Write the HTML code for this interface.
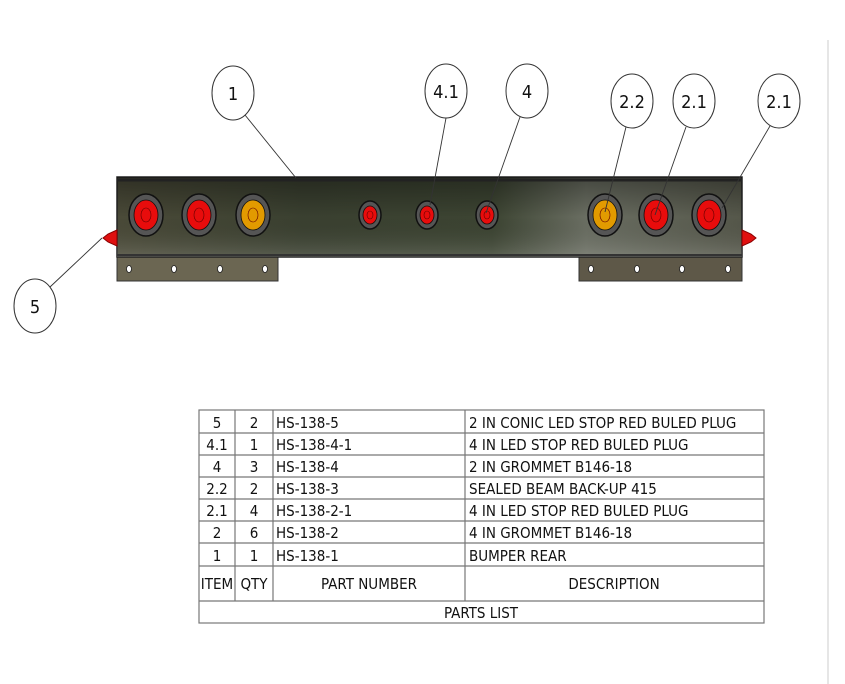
<!DOCTYPE html>
<html><head><style>
html,body{margin:0;padding:0;background:#fff;}
svg{display:block;}
text{font-family:"DejaVu Sans Condensed","Liberation Sans Narrow","Liberation Sans",sans-serif;}
</style></head><body>
<svg width="845" height="684" viewBox="0 0 845 684" xmlns="http://www.w3.org/2000/svg">
<defs>
<linearGradient id="bg" x1="0" y1="0" x2="1" y2="0">
<stop offset="0" stop-color="#4a4a38"/><stop offset="0.3" stop-color="#3a4030"/>
<stop offset="0.6" stop-color="#3c4432"/><stop offset="0.75" stop-color="#6a6e62"/>
<stop offset="1" stop-color="#55574a"/></linearGradient>
<linearGradient id="bv" x1="0" y1="0" x2="0" y2="1">
<stop offset="0" stop-color="#000" stop-opacity="0.35"/><stop offset="0.5" stop-color="#000" stop-opacity="0"/>
<stop offset="1" stop-color="#fff" stop-opacity="0.15"/></linearGradient>
</defs>
<line x1="828" y1="40" x2="828" y2="684" stroke="#ccc" stroke-width="1"/>
<!-- brackets -->
<rect x="117" y="257" width="161" height="24" fill="#6b6652" stroke="#333"/>
<rect x="579" y="257" width="163" height="24" fill="#5e5848" stroke="#333"/>
<g fill="#fff" stroke="#222" stroke-width="0.8">
<ellipse cx="129" cy="269" rx="2.5" ry="3.5"/><ellipse cx="174" cy="269" rx="2.5" ry="3.5"/>
<ellipse cx="220" cy="269" rx="2.5" ry="3.5"/><ellipse cx="265" cy="269" rx="2.5" ry="3.5"/>
<ellipse cx="591" cy="269" rx="2.5" ry="3.5"/><ellipse cx="637" cy="269" rx="2.5" ry="3.5"/>
<ellipse cx="682" cy="269" rx="2.5" ry="3.5"/><ellipse cx="728" cy="269" rx="2.5" ry="3.5"/>
</g>
<!-- bar -->
<rect x="117" y="177" width="625" height="80" fill="url(#bg)" stroke="#222" stroke-width="1.5"/>
<rect x="117" y="177" width="625" height="80" fill="url(#bv)"/>
<line x1="117" y1="180" x2="742" y2="180" stroke="#222" stroke-width="3"/>
<line x1="117" y1="255" x2="742" y2="255" stroke="#333" stroke-width="2"/>
<!-- side plugs -->
<path d="M117 230 L108 234 L103 238 L108 242 L117 246 Z" fill="#e01010" stroke="#800"/>
<path d="M742 230 L751 234 L756 238 L751 242 L742 246 Z" fill="#e01010" stroke="#800"/>
<!-- lights -->
<g stroke="#111" stroke-width="1.5">
<g fill="#555"><ellipse cx="146" cy="215" rx="17" ry="21"/><ellipse cx="199" cy="215" rx="17" ry="21"/><ellipse cx="253" cy="215" rx="17" ry="21"/>
<ellipse cx="605" cy="215" rx="17" ry="21"/><ellipse cx="656" cy="215" rx="17" ry="21"/><ellipse cx="709" cy="215" rx="17" ry="21"/>
<ellipse cx="370" cy="215" rx="11" ry="14"/><ellipse cx="427" cy="215" rx="11" ry="14"/><ellipse cx="487" cy="215" rx="11" ry="14"/></g>
<g stroke-width="0.8">
<ellipse cx="146" cy="215" rx="12" ry="15" fill="#e80c0c"/><ellipse cx="199" cy="215" rx="12" ry="15" fill="#e80c0c"/>
<ellipse cx="253" cy="215" rx="12" ry="15" fill="#e29a00"/><ellipse cx="605" cy="215" rx="12" ry="15" fill="#e29a00"/>
<ellipse cx="656" cy="215" rx="12" ry="15" fill="#e80c0c"/><ellipse cx="709" cy="215" rx="12" ry="15" fill="#e80c0c"/>
<ellipse cx="370" cy="215" rx="7" ry="9" fill="#e80c0c"/><ellipse cx="427" cy="215" rx="7" ry="9" fill="#e80c0c"/><ellipse cx="487" cy="215" rx="7" ry="9" fill="#e80c0c"/>
</g>
<g fill="none" stroke-width="0.6" stroke="#600">
<ellipse cx="146" cy="215" rx="5" ry="7"/><ellipse cx="199" cy="215" rx="5" ry="7"/><ellipse cx="253" cy="215" rx="5" ry="7"/>
<ellipse cx="605" cy="215" rx="5" ry="7"/><ellipse cx="656" cy="215" rx="5" ry="7"/><ellipse cx="709" cy="215" rx="5" ry="7"/>
<ellipse cx="370" cy="215" rx="3" ry="4"/><ellipse cx="427" cy="215" rx="3" ry="4"/><ellipse cx="487" cy="215" rx="3" ry="4"/>
</g>
</g>
<!-- leaders -->
<g stroke="#333" stroke-width="0.9" fill="none">
<line x1="245" y1="115" x2="296" y2="178"/>
<line x1="446" y1="118" x2="430" y2="205"/>
<line x1="520" y1="117" x2="486" y2="213"/>
<line x1="626" y1="127" x2="605" y2="212"/>
<line x1="686" y1="127" x2="655" y2="215"/>
<line x1="770" y1="126" x2="722" y2="208"/>
<line x1="50" y1="287" x2="102" y2="238"/>
</g>
<!-- balloons -->
<g fill="#fff" stroke="#333" stroke-width="1">
<ellipse cx="233" cy="93" rx="21" ry="27"/><ellipse cx="446" cy="91" rx="21" ry="27"/>
<ellipse cx="527" cy="91" rx="21" ry="27"/><ellipse cx="632" cy="101" rx="21" ry="27"/>
<ellipse cx="694" cy="101" rx="21" ry="27"/><ellipse cx="779" cy="101" rx="21" ry="27"/>
<ellipse cx="35" cy="306" rx="21" ry="27"/>
</g>
<g font-size="18" text-anchor="middle" fill="#111">
<text x="233" y="100">1</text><text x="446" y="98">4.1</text><text x="527" y="98">4</text>
<text x="632" y="108">2.2</text><text x="694" y="108">2.1</text><text x="779" y="108">2.1</text>
<text x="35" y="313">5</text>
</g>
<!-- table -->
<g stroke="#777" stroke-width="1.2" fill="none">
<rect x="199" y="410" width="565" height="213"/>
<line x1="199" y1="433" x2="764" y2="433"/><line x1="199" y1="455" x2="764" y2="455"/>
<line x1="199" y1="477" x2="764" y2="477"/><line x1="199" y1="499" x2="764" y2="499"/>
<line x1="199" y1="521" x2="764" y2="521"/><line x1="199" y1="543" x2="764" y2="543"/>
<line x1="199" y1="566" x2="764" y2="566"/><line x1="199" y1="601" x2="764" y2="601"/>
<line x1="235" y1="410" x2="235" y2="601"/><line x1="273" y1="410" x2="273" y2="601"/>
<line x1="465" y1="410" x2="465" y2="601"/>
</g>
<g font-size="15" fill="#111">
<g text-anchor="middle">
<text x="217" y="428">5</text><text x="254" y="428">2</text>
<text x="217" y="450">4.1</text><text x="254" y="450">1</text>
<text x="217" y="472">4</text><text x="254" y="472">3</text>
<text x="217" y="494">2.2</text><text x="254" y="494">2</text>
<text x="217" y="516">2.1</text><text x="254" y="516">4</text>
<text x="217" y="538">2</text><text x="254" y="538">6</text>
<text x="217" y="561">1</text><text x="254" y="561">1</text>
<text x="217" y="589">ITEM</text><text x="254" y="589">QTY</text>
<text x="369" y="589">PART NUMBER</text><text x="614" y="589">DESCRIPTION</text>
<text x="481" y="618">PARTS LIST</text>
</g>
<text x="276" y="428">HS-138-5</text><text x="469" y="428">2 IN CONIC LED STOP RED BULED PLUG</text>
<text x="276" y="450">HS-138-4-1</text><text x="469" y="450">4 IN LED STOP RED BULED PLUG</text>
<text x="276" y="472">HS-138-4</text><text x="469" y="472">2 IN GROMMET B146-18</text>
<text x="276" y="494">HS-138-3</text><text x="469" y="494">SEALED BEAM BACK-UP 415</text>
<text x="276" y="516">HS-138-2-1</text><text x="469" y="516">4 IN LED STOP RED BULED PLUG</text>
<text x="276" y="538">HS-138-2</text><text x="469" y="538">4 IN GROMMET B146-18</text>
<text x="276" y="561">HS-138-1</text><text x="469" y="561">BUMPER REAR</text>
</g>
</svg>
</body></html>
